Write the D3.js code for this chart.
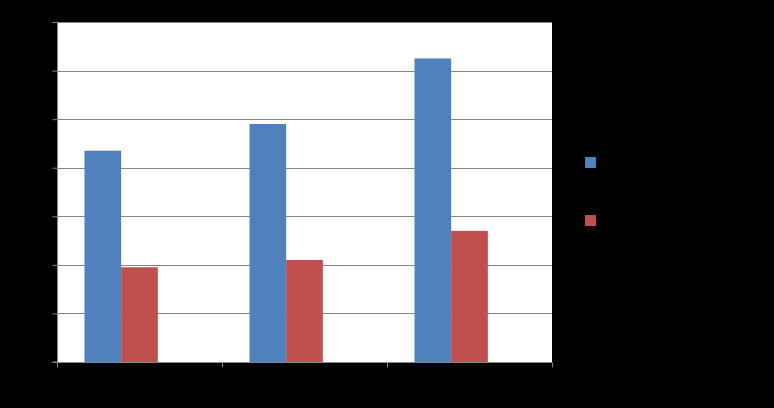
<!DOCTYPE html>
<html>
<head>
<meta charset="utf-8">
<script src="https://cdn.jsdelivr.net/npm/d3@7"></script>
<style>
  body { margin: 0; background: #000; }
  svg { display: block; }
</style>
</head>
<body>
<div id="chart"></div>
<script>
var categories = ["Category 1", "Category 2", "Category 3"];
var seriesNames = ["Series 1", "Series 2"];
var series1 = [4.35, 4.9, 6.25];
var series2 = [1.95, 2.1, 2.7];
var yTicks = [0, 1, 2, 3, 4, 5, 6, 7];
var colors = ["#4F81BD", "#C0504D"];

var svgWidth = 774;
var svgHeight = 408;
var margin = { top: 22, right: 222, bottom: 46, left: 57 };
var width = svgWidth - margin.left - margin.right;
var height = svgHeight - margin.top - margin.bottom;

var svg = d3.select("#chart")
    .append("svg")
    .attr("width", svgWidth)
    .attr("height", svgHeight)
    .style("background", "#000");

var chartGroup = svg.append("g")
    .attr("transform", `translate(${margin.left}, ${margin.top})`);

chartGroup.append("rect")
    .attr("width", width)
    .attr("height", height)
    .attr("fill", "#fff");

var x0 = d3.scaleBand()
    .domain(categories)
    .range([0, width])
    .paddingInner(1 / 3)
    .paddingOuter(1 / 6);

// three slots per category, the chart leaves the third one empty
var x1 = d3.scaleBand()
    .domain([0, 1, 2])
    .range([0, x0.bandwidth()]);

var y = d3.scaleLinear()
    .domain([0, 7])
    .range([height, 0]);

// gridlines
chartGroup.selectAll("line.grid")
    .data(yTicks.slice(1))
    .enter()
    .append("line")
    .attr("class", "grid")
    .attr("x1", 0)
    .attr("x2", width)
    .attr("y1", d => Math.round(y(d)) + 0.5)
    .attr("y2", d => Math.round(y(d)) + 0.5)
    .attr("stroke", "#868686")
    .attr("stroke-width", 1);

var data = categories.map(function(c, i) {
    return { cat: c, values: [series1[i], series2[i]] };
});

var groups = chartGroup.selectAll("g.cat")
    .data(data)
    .enter()
    .append("g")
    .attr("class", "cat")
    .attr("transform", d => `translate(${x0(d.cat)}, 0)`);

groups.selectAll("rect")
    .data(d => d.values.map((v, i) => ({ v: v, i: i })))
    .enter()
    .append("rect")
    .attr("x", d => x1(d.i))
    .attr("y", d => y(d.v))
    .attr("width", x1.bandwidth())
    .attr("height", d => height - y(d.v))
    .attr("fill", d => colors[d.i]);

// axes
var leftAxis = d3.axisLeft(y).tickValues(yTicks).tickSize(5).tickPadding(6);
var yAxisG = chartGroup.append("g")
    .attr("transform", "translate(0.5, 0)")
    .call(leftAxis);
yAxisG.selectAll("line, path").attr("stroke", "#868686");
yAxisG.select(".domain").attr("d", `M-5,0.5H0V${height}H-5`);
yAxisG.selectAll("text").attr("fill", "#000").style("font-family", "Calibri, Carlito, 'Liberation Sans', sans-serif").style("font-size", "13px");

var bottomAxis = d3.axisBottom(x0).tickSize(0).tickPadding(10);
var xAxisG = chartGroup.append("g")
    .attr("transform", `translate(0, ${height + 0.5})`)
    .call(bottomAxis);
xAxisG.select(".domain").attr("stroke", "#868686").attr("d", `M0,0H${width}`);
xAxisG.selectAll("text").attr("fill", "#000").style("font-family", "Calibri, Carlito, 'Liberation Sans', sans-serif").style("font-size", "13px");

// category boundary ticks
var boundaries = d3.range(categories.length + 1).map(i => i * x0.step());
xAxisG.selectAll("line.bound")
    .data(boundaries)
    .enter()
    .append("line")
    .attr("class", "bound")
    .attr("x1", d => Math.round(d) + 0.5)
    .attr("x2", d => Math.round(d) + 0.5)
    .attr("y1", 0)
    .attr("y2", 5)
    .attr("stroke", "#868686");

// legend
var legend = svg.append("g")
    .attr("transform", "translate(585, 157)");

var legendItems = legend.selectAll("g")
    .data(seriesNames)
    .enter()
    .append("g")
    .attr("transform", (d, i) => `translate(0, ${i * 58})`);

legendItems.append("rect")
    .attr("width", 11)
    .attr("height", 11)
    .attr("fill", (d, i) => colors[i]);

legendItems.append("text")
    .attr("x", 16)
    .attr("y", 10)
    .attr("fill", "#000")
    .style("font-family", "Calibri, Carlito, 'Liberation Sans', sans-serif")
    .style("font-size", "13px")
    .text(d => d);
</script>
</body>
</html>
